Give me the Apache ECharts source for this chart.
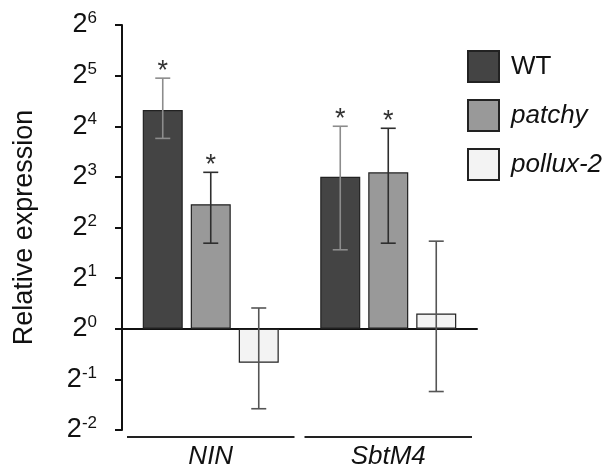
<!DOCTYPE html>
<html>
<head>
<meta charset="utf-8">
<script src="https://cdn.jsdelivr.net/npm/echarts@6/dist/echarts.min.js"></script>
<style>
  html, body { margin: 0; padding: 0; background: #fff; }
  #chart { width: 610px; height: 470px; }
</style>
</head>
<body>
<div id="chart"></div>
<script>
// values are log2(relative expression)
var genes = ['NIN', 'SbtM4'];
var lines = ['WT', 'patchy', 'pollux-2'];

var wtMean = [4.32, 3.00];
var wtLow = [3.76, 1.56];
var wtHigh = [4.95, 4.00];

var patchyMean = [2.46, 3.09];
var patchyLow = [1.69, 1.69];
var patchyHigh = [3.09, 3.96];

var polluxMean = [-0.67, 0.30];
var polluxLow = [-1.58, -1.24];
var polluxHigh = [0.41, 1.73];

// significance marks per line, per gene
var wtStar = [true, true];
var patchyStar = [true, true];
var polluxStar = [false, false];

var yMin = -2, yMax = 6, yStep = 1;

var fillColors = ['#444444', '#999999', '#f3f3f3'];
var errColors = ['#8c8c8c', '#2e2e2e', '#555555'];
var FONT = '"Liberation Sans", Arial, Helvetica, sans-serif';
var BAR_W = 40, BAR_GAP = 8;

var means = [wtMean, patchyMean, polluxMean];
var lows = [wtLow, patchyLow, polluxLow];
var highs = [wtHigh, patchyHigh, polluxHigh];
var stars = [wtStar, patchyStar, polluxStar];

// rows for the error-bar series: [gene index, line index, low, high, star]
var errRows = [];
for (var li = 0; li < lines.length; li++) {
    for (var gi = 0; gi < genes.length; gi++) {
        errRows.push([gi, li, lows[li][gi], highs[li][gi], stars[li][gi] ? 1 : 0]);
    }
}

var barSeries = lines.map(function (name, i) {
    return {
        name: name,
        type: 'bar',
        xAxisIndex: 0,
        barWidth: BAR_W,
        barGap: (BAR_GAP / BAR_W * 100) + '%',
        data: means[i],
        itemStyle: { color: fillColors[i], borderColor: '#222', borderWidth: 1.2 },
        emphasis: { disabled: true },
        silent: true
    };
});

var errorSeries = {
    type: 'custom',
    xAxisIndex: 0,
    silent: true,
    z: 5,
    data: errRows,
    encode: { x: 0, y: [2, 3] },
    renderItem: function (params, api) {
        var gi = api.value(0), li = api.value(1);
        var shift = (li - (lines.length - 1) / 2) * (BAR_W + BAR_GAP);
        var top = api.coord([gi, api.value(3)]);
        var bot = api.coord([gi, api.value(2)]);
        var x = top[0] + shift;
        var st = { stroke: errColors[li], lineWidth: 1.6 };
        var kids = [
            { type: 'line', shape: { x1: x, y1: top[1], x2: x, y2: bot[1] }, style: st },
            { type: 'line', shape: { x1: x - 7.5, y1: top[1], x2: x + 7.5, y2: top[1] }, style: st },
            { type: 'line', shape: { x1: x - 7.5, y1: bot[1], x2: x + 7.5, y2: bot[1] }, style: st }
        ];
        if (api.value(4)) {
            kids.push({
                type: 'text',
                style: {
                    x: x, y: top[1] - 7, text: '*',
                    font: '27px ' + FONT, fill: '#333',
                    align: 'center', verticalAlign: 'middle'
                }
            });
        }
        return { type: 'group', children: kids };
    }
};

// underline below each gene group
var underlineSeries = {
    type: 'custom',
    xAxisIndex: 0,
    silent: true,
    data: genes.map(function (g, i) { return [i, yMin]; }),
    encode: { x: 0, y: 1 },
    renderItem: function (params, api) {
        var p = api.coord([api.value(0), api.value(1)]);
        var band = api.size([1, 0])[0];
        return {
            type: 'line',
            shape: { x1: p[0] - band / 2 + 5, y1: p[1] + 7, x2: p[0] + band / 2 - 5, y2: p[1] + 7 },
            style: { stroke: '#222', lineWidth: 2.2 }
        };
    }
};

var chart = echarts.init(document.getElementById('chart'));
chart.setOption({
    animation: false,
    backgroundColor: '#fff',
    textStyle: { fontFamily: FONT },
    grid: { left: 122, right: 133, top: 25, bottom: 39, containLabel: false },
    legend: {
        data: lines,
        orient: 'vertical',
        left: 462,
        top: 45,
        itemWidth: 31,
        itemHeight: 31,
        itemGap: 16,
        icon: 'rect',
        selectedMode: false,
        formatter: function (name) {
            return name === 'WT' ? '{n|' + name + '}' : '{i|' + name + '}';
        },
        textStyle: {
            padding: [0, 0, 0, 7],
            rich: {
                n: { fontSize: 26, color: '#111', fontFamily: FONT },
                i: { fontSize: 26, color: '#111', fontStyle: 'italic', fontFamily: FONT }
            }
        }
    },
    xAxis: [
        {
            type: 'category',
            data: genes,
            axisLine: { onZero: true, lineStyle: { color: '#111', width: 2 } },
            axisTick: { show: false },
            axisLabel: { show: false },
            splitLine: { show: false }
        },
        {
            type: 'category',
            data: genes,
            position: 'bottom',
            axisLine: { show: false },
            axisTick: { show: false },
            splitLine: { show: false },
            axisLabel: {
                margin: 14,
                fontSize: 26,
                fontStyle: 'italic',
                color: '#111',
                fontFamily: FONT
            }
        }
    ],
    yAxis: {
        type: 'value',
        min: yMin,
        max: yMax,
        interval: yStep,
        name: 'Relative expression',
        nameLocation: 'middle',
        nameGap: 84,
        nameTextStyle: { fontSize: 27, color: '#111', fontFamily: FONT },
        axisLine: { show: true, lineStyle: { color: '#111', width: 2 } },
        axisTick: { show: true, length: 7, lineStyle: { color: '#111', width: 2 } },
        splitLine: { show: false },
        axisLabel: {
            margin: 25,
            formatter: function (v) { return '{b|2}{s|' + v + '}'; },
            rich: {
                b: { fontSize: 27, lineHeight: 30, color: '#111', fontFamily: FONT },
                s: { fontSize: 17, lineHeight: 13, verticalAlign: 'top', color: '#111', fontFamily: FONT }
            }
        }
    },
    series: barSeries.concat([errorSeries, underlineSeries])
});
</script>
</body>
</html>
